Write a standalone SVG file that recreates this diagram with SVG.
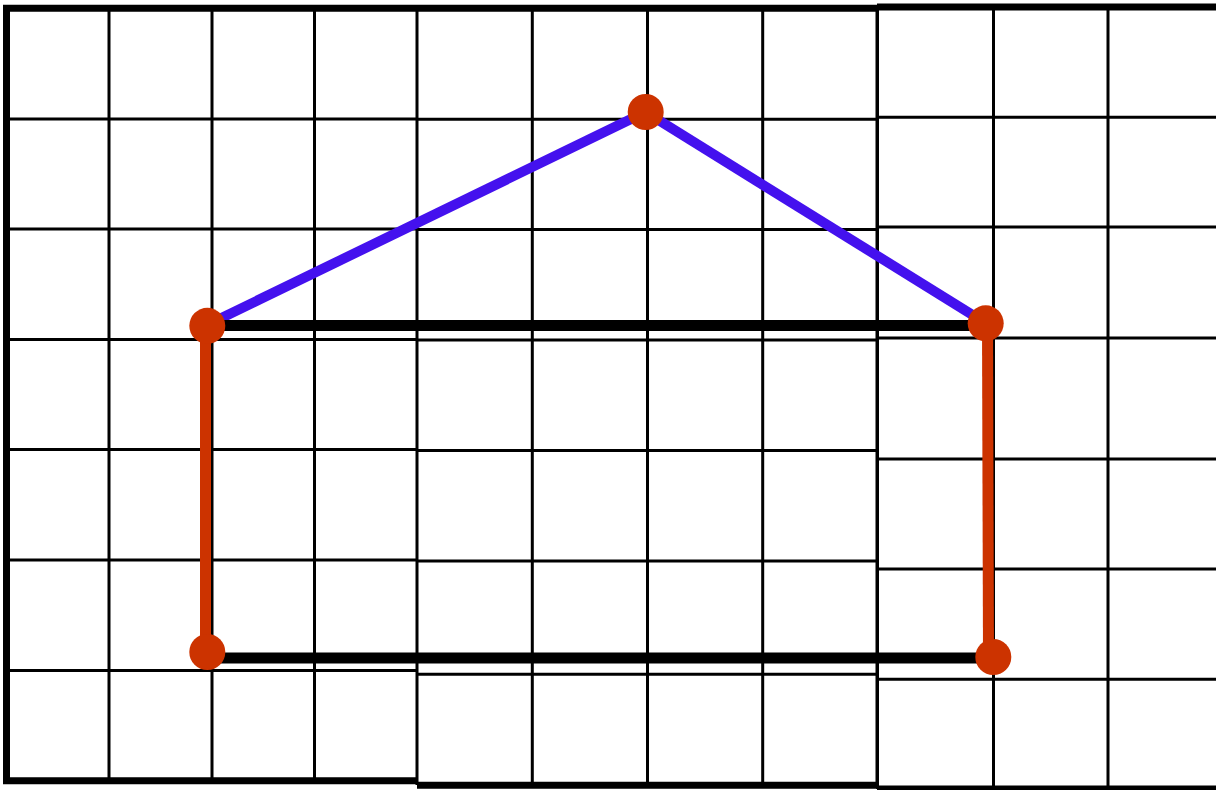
<svg xmlns="http://www.w3.org/2000/svg" width="1216" height="790" viewBox="0 0 1216 790">
<style>
.thin{stroke:#000;stroke-width:3;fill:none}
.thick{stroke:#000;stroke-width:7;fill:none}
.edge{stroke-width:10;fill:none}
.roof{stroke:#4411EE}
.wall{stroke:#CC3300;stroke-width:11}
.floor{stroke:#000;stroke-width:11}
.pt{fill:#CC3300}
</style>
<rect width="1216" height="790" fill="#fff"/>
<g id="grid-left">
<path class="thin" d="M109 8V781M212 8V781M314.5 8V781M6.5 119H417M6.5 229H417M6.5 339.5H417M6.5 449.5H417M6.5 560H417M6.5 670.5H417"/>
<path class="thick" d="M417 8.3H6.5V780.8H417"/>
</g>
<g id="grid-middle">
<path class="thin" d="M417 8V785M532.3 8V785M647.5 8V785M762.7 8V785M877 8V785M417 119.3H877M417 229.5H877M417 340H877M417 450.5H877M417 561H877M417 674.2H877"/>
<path class="thick" d="M417 8.3H877M417 785.3H877"/>
</g>
<g id="grid-right">
<path class="thin" d="M877.5 7V789M993.5 7V789M1108 7V789M877 117.3H1216M877 227H1216M877 338H1216M877 459H1216M877 569H1216M877 679.3H1216"/>
<path class="thick" d="M877 7H1216M877 789H1216"/>
</g>
<g id="connectors">
<line class="edge roof" x1="207" y1="325" x2="645.5" y2="112"/>
<line class="edge roof" x1="645.5" y1="112" x2="985.5" y2="323"/>
<line class="edge floor" x1="207" y1="325.5" x2="985.5" y2="325.5"/>
<line class="edge floor" x1="207" y1="658" x2="993" y2="658"/>
<line class="edge wall" x1="205.5" y1="325" x2="205.5" y2="652"/>
<line class="edge wall" x1="987.5" y1="323" x2="988.5" y2="656"/>
</g>
<g id="node-apex"><circle class="pt" cx="645.7" cy="112" r="18"/></g>
<g id="node-left-top"><circle class="pt" cx="207.3" cy="325.8" r="18"/></g>
<g id="node-right-top"><circle class="pt" cx="985.7" cy="323.3" r="18"/></g>
<g id="node-left-bottom"><circle class="pt" cx="207.3" cy="652" r="18"/></g>
<g id="node-right-bottom"><circle class="pt" cx="993.3" cy="657" r="18"/></g>
</svg>
